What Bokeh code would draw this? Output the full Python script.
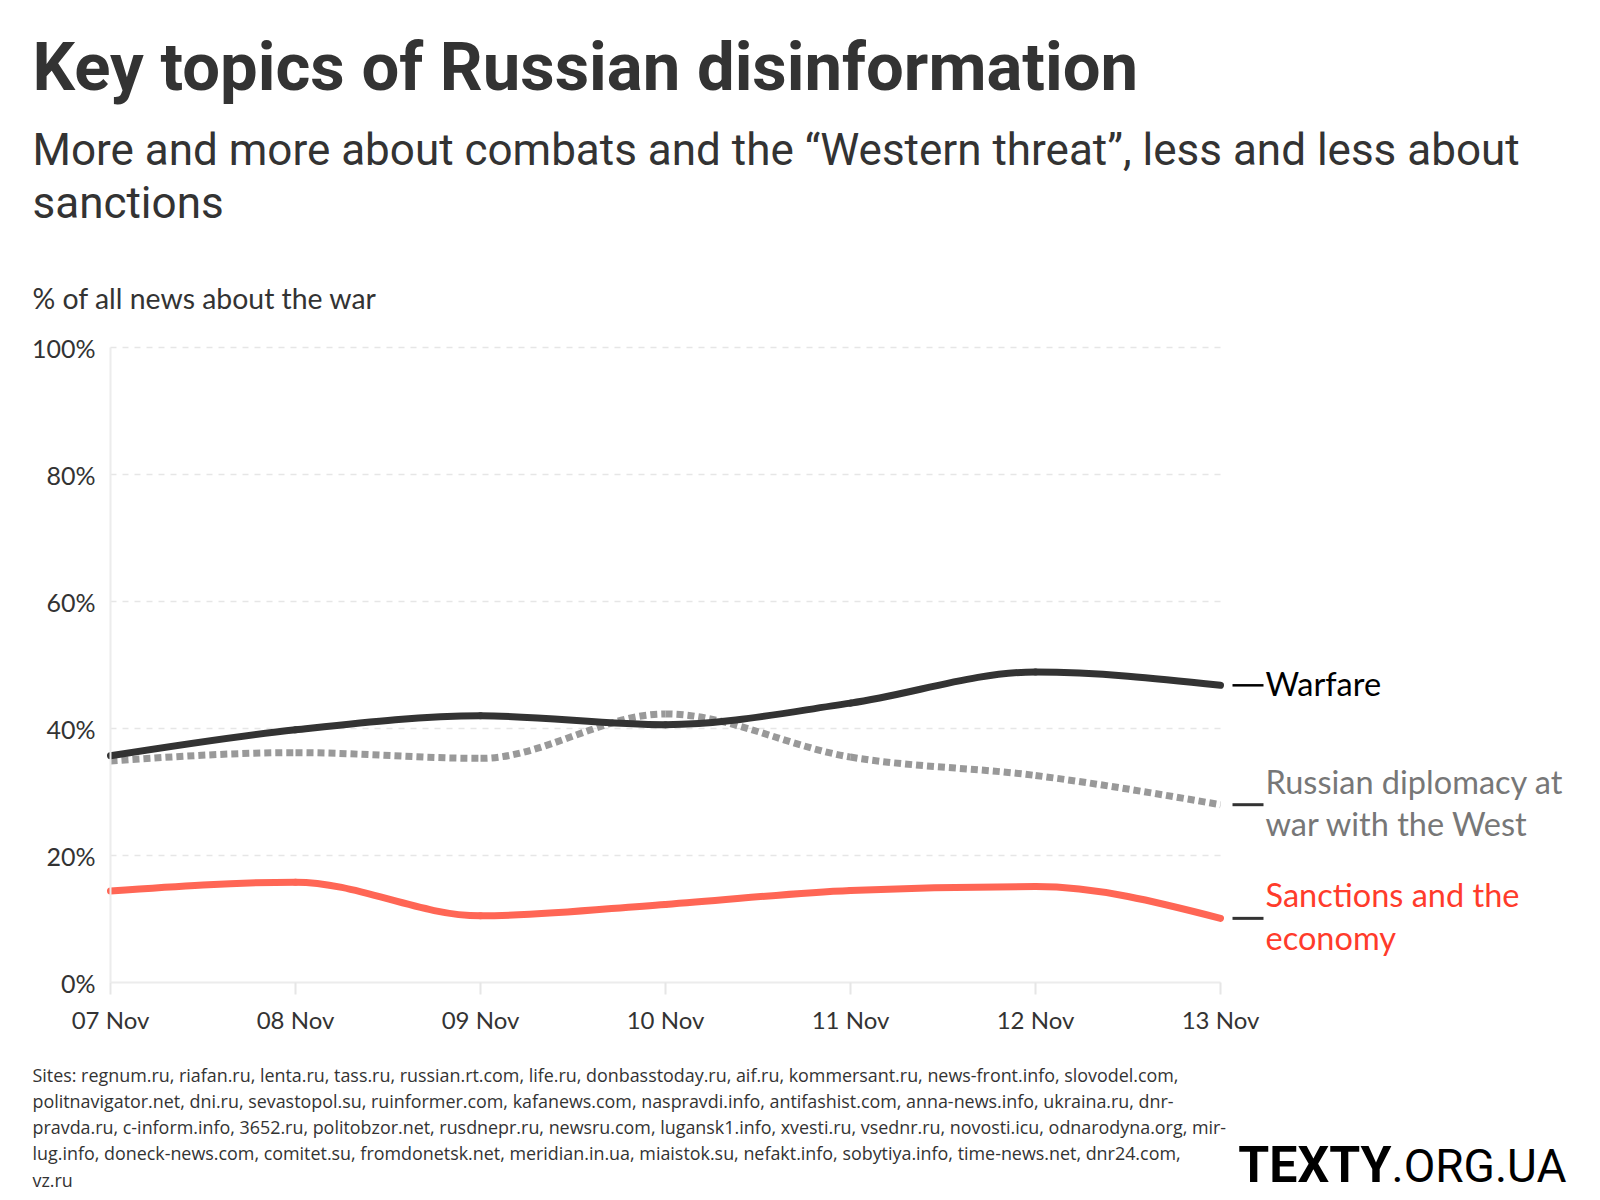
from bokeh.plotting import figure
from bokeh.models import Range1d, FixedTicker
from bokeh.core.properties import value
from bokeh.embed import file_html
from bokeh.resources import INLINE

# ---------------- data ----------------
days = ["07 Nov", "08 Nov", "09 Nov", "10 Nov", "11 Nov", "12 Nov", "13 Nov"]
warfare = [35.7, 39.8, 42.0, 40.6, 44.0, 48.9, 46.8]
diplomacy = [34.9, 36.2, 35.3, 42.3, 35.5, 32.6, 28.0]
sanctions = [14.4, 15.8, 10.5, 12.3, 14.5, 15.1, 10.1]
y_ticks = [0, 20, 40, 60, 80, 100]
y_tick_labels = ["0%", "20%", "40%", "60%", "80%", "100%"]

title = "Key topics of Russian disinformation"
subtitle = ["More and more about combats and the \u201cWestern threat\u201d, less and less about",
            "sanctions"]
y_caption = "% of all news about the war"
series_labels = [["Warfare"],
                 ["Russian diplomacy at", "war with the West"],
                 ["Sanctions and the", "economy"]]
footer = [
    "Sites: regnum.ru, riafan.ru, lenta.ru, tass.ru, russian.rt.com, life.ru, donbasstoday.ru, aif.ru, kommersant.ru, news-front.info, slovodel.com,",
    "politnavigator.net, dni.ru, sevastopol.su, ruinformer.com, kafanews.com, naspravdi.info, antifashist.com, anna-news.info, ukraina.ru, dnr-",
    "pravda.ru, c-inform.info, 3652.ru, politobzor.net, rusdnepr.ru, newsru.com, lugansk1.info, xvesti.ru, vsednr.ru, novosti.icu, odnarodyna.org, mir-",
    "lug.info, doneck-news.com, comitet.su, fromdonetsk.net, meridian.in.ua, miaistok.su, nefakt.info, sobytiya.info, time-news.net, dnr24.com,",
    "vz.ru",
]
logo = ["TEXTY", ".ORG.UA"]

# ---------------- layout (canvas pixels) ----------------
W, H = 1584, 1196
PX_X0, PX_X6 = 110, 1220      # pixel x of first / last day
PX_Y0, PX_Y100 = 982, 347     # pixel y of 0% / 100%
n_days = len(days)
x_idx = list(range(n_days))
ppd = (PX_X6 - PX_X0) / (n_days - 1)      # pixels per day
ppp = (PX_Y0 - PX_Y100) / 100.0           # pixels per percent


def xd(px):
    return (px - PX_X0) / ppd


def yd(py):
    return (PX_Y0 - py) / ppp


p = figure(width=W, height=H,
           x_range=Range1d(xd(0), xd(W)), y_range=Range1d(yd(H), yd(0)),
           output_backend="svg", toolbar_location=None,
           min_border=0, min_border_left=0, min_border_right=0,
           min_border_top=0, min_border_bottom=0)
p.outline_line_color = None
p.background_fill_color = "white"
p.border_fill_color = "white"

TICK_FONT = "Lato"
# y axis
ya = p.yaxis[0]
ya.fixed_location = 0
ya.bounds = (0, 100)
ya.ticker = FixedTicker(ticks=y_ticks)
ya.major_label_overrides = {t: l for t, l in zip(y_ticks, y_tick_labels)}
ya.axis_line_color = "#ececec"
ya.axis_line_width = 2
ya.major_tick_line_color = None
ya.minor_tick_line_color = None
ya.major_label_text_font = TICK_FONT
ya.major_label_text_font_size = "25px"
ya.major_label_text_color = "#333333"
ya.major_label_standoff = 9

# x axis
xa = p.xaxis[0]
xa.fixed_location = 0
xa.bounds = (0, n_days - 1)
xa.ticker = FixedTicker(ticks=x_idx)
xa.major_label_overrides = {i: d for i, d in zip(x_idx, days)}
xa.axis_line_color = "#ececec"
xa.axis_line_width = 2
xa.major_tick_line_color = "#e6e6e6"
xa.major_tick_line_width = 2
xa.major_tick_in = 0
xa.major_tick_out = 12
xa.minor_tick_line_color = None
xa.major_label_text_font = TICK_FONT
xa.major_label_text_font_size = "24px"
xa.major_label_text_color = "#333333"
xa.major_label_standoff = 10

# horizontal grid, limited to the day span
p.xgrid.visible = False
grid_ok = False
try:
    p.ygrid.cross_bounds = (0, n_days - 1)
    grid_ok = True
except Exception:
    grid_ok = False
if grid_ok:
    p.ygrid.ticker = FixedTicker(ticks=y_ticks[1:])
    p.ygrid.grid_line_color = "#e6e6e6"
    p.ygrid.grid_line_dash = "6 6"
    p.ygrid.grid_line_width = 1.5
else:
    p.ygrid.visible = False
    p.segment(x0=[0] * 5, x1=[n_days - 1] * 5, y0=y_ticks[1:], y1=y_ticks[1:],
              line_color="#e6e6e6", line_dash="6 6", line_width=1.5)


# smooth monotone curves (d3 curveMonotoneX style) drawn as bezier segments
def sgn(v):
    return -1.0 if v < 0 else 1.0


def monotone(xs, ys):
    n = len(xs)
    h = [xs[i + 1] - xs[i] for i in range(n - 1)]
    s = [(ys[i + 1] - ys[i]) / h[i] for i in range(n - 1)]
    t = [0.0] * n
    for i in range(1, n - 1):
        h0, h1, s0, s1 = h[i - 1], h[i], s[i - 1], s[i]
        pp = (s0 * h1 + s1 * h0) / (h0 + h1)
        t[i] = (sgn(s0) + sgn(s1)) * min(abs(s0), abs(s1), 0.5 * abs(pp))
    t[0] = (3 * s[0] - t[1]) / 2
    t[-1] = (3 * s[-1] - t[-2]) / 2
    seg = dict(x0=[], y0=[], x1=[], y1=[], cx0=[], cy0=[], cx1=[], cy1=[])
    for i in range(n - 1):
        dx = h[i] / 3.0
        seg["x0"].append(xs[i]); seg["y0"].append(ys[i])
        seg["x1"].append(xs[i + 1]); seg["y1"].append(ys[i + 1])
        seg["cx0"].append(xs[i] + dx); seg["cy0"].append(ys[i] + dx * t[i])
        seg["cx1"].append(xs[i + 1] - dx); seg["cy1"].append(ys[i + 1] - dx * t[i + 1])
    return seg


p.bezier(**monotone(x_idx, diplomacy), line_color="#999999", line_width=7,
         line_dash="7 4", line_cap="butt")
p.bezier(**monotone(x_idx, warfare), line_color="#333333", line_width=7, line_cap="round")
p.bezier(**monotone(x_idx, sanctions), line_color="#ff6655", line_width=7, line_cap="round")

# vertical anchor correction (fraction of font size) per font family
BASE_K = {"Roboto": 0.34, "Lato": 0.387, "Open Sans": 0.388}


def txt(texts, xs, ys, size, font="Lato", color="#333333", style="normal", align="left"):
    """ys are data-space baselines."""
    shift = BASE_K[font] * size / ppp
    p.text(x=xs, y=[y + shift for y in ys], text=texts, text_font=value(font),
           text_font_size=value(f"{size}px"), text_color=color,
           text_font_style=style, text_align=align, text_baseline="alphabetic")


# titles
txt([title], [xd(32)], [yd(89)], 67, font="Roboto", style="bold")
txt(subtitle, [xd(32)] * 2, [yd(164), yd(217)], 44, font="Roboto")
txt([y_caption], [xd(32)], [yd(308)], 28.4, font="Lato")

# right-hand series labels with leader dashes, anchored to the last values
last = n_days - 1
ends = [warfare[last], diplomacy[last], sanctions[last]]
lead_x0, lead_x1, lab_x = last + 12 / ppd, last + 43 / ppd, last + 45 / ppd
p.segment(x0=[lead_x0] * 3, x1=[lead_x1] * 3, y0=ends, y1=ends,
          line_color=["#000000", "#333333", "#333333"], line_width=[2.5, 3, 3])
txt(series_labels[0], [lab_x], [ends[0] - 11 / ppp], 32.5, color="#000000")
txt(series_labels[1], [lab_x] * 2, [ends[1] + 11 / ppp, ends[1] - 31 / ppp], 32.5, color="#777777")
txt(series_labels[2], [lab_x] * 2, [ends[2] + 11 / ppp, ends[2] - 32 / ppp], 32.5, color="#ff3b2b")

# footer
txt(footer, [xd(32)] * len(footer), [yd(1081 + i * 26.3) for i in range(len(footer))],
    17.9, font="Open Sans")

# logo
txt([logo[0]], [xd(1391)], [yd(1181)], 50, font="Roboto", style="bold",
    color="#000000", align="right")
txt([logo[1]], [xd(1391)], [yd(1181)], 46, font="Roboto", color="#000000")

open("out.html", "w").write(file_html(p, INLINE))
